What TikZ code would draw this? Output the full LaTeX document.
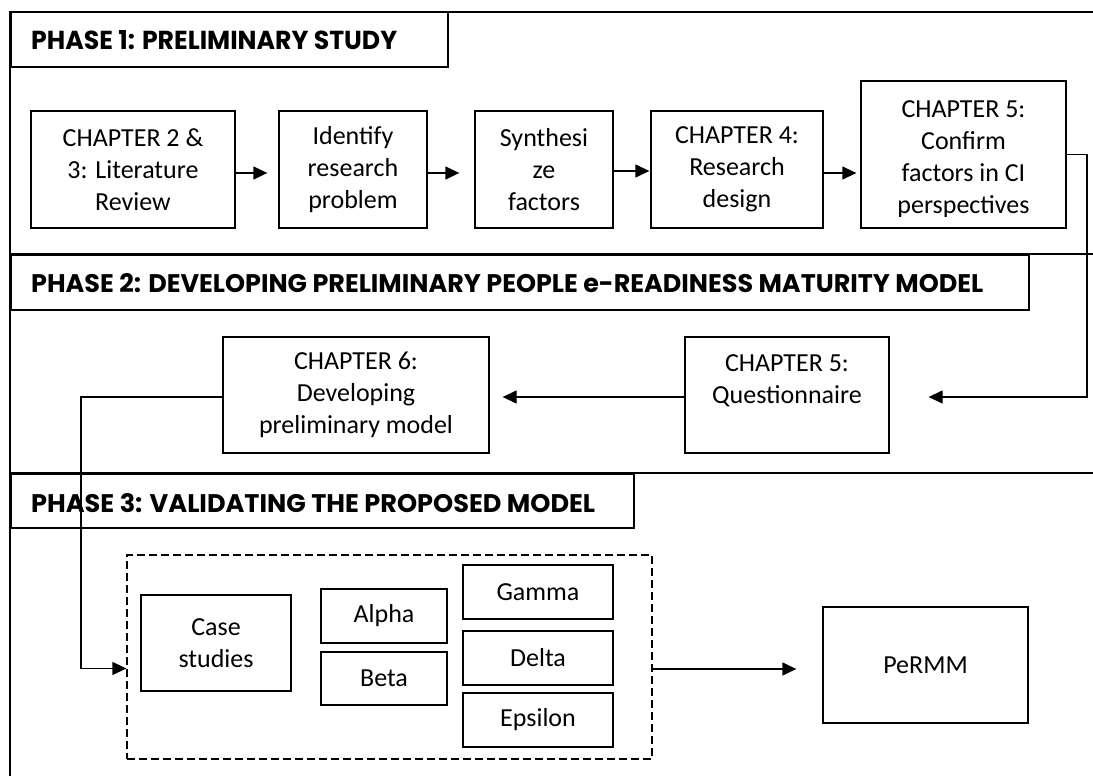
\documentclass[tikz,border=0pt]{standalone}
\usepackage{fontspec}
\usetikzlibrary{arrows.meta,calc}
\setmainfont{Carlito}
\newfontfamily\headfont{Poppins}[UprightFont=* Bold]
\newcommand{\hdtext}[2]{\resizebox{#1}{19pt}{\headfont #2}}
\begin{document}
\begin{tikzpicture}[x=1pt,y=-1pt,
  frameline/.style={line width=1.6pt},
  hdrbox/.style={draw,line width=1.6pt,minimum height=55pt,inner sep=0pt,anchor=north west},
  hdrtext/.style={anchor=base west,inner sep=0pt},
  stepbox/.style={draw,line width=1.3pt,inner sep=0pt,align=center,
    font=\fontsize{26}{32}\selectfont},
  groupbox/.style={draw,dashed,dash pattern=on 8pt off 4pt,line width=1.3pt,inner sep=0pt},
  arr/.style={line width=1.3pt,-{Triangle[length=14pt,width=13pt]}},
  plain/.style={line width=1.3pt}]
\useasboundingbox (0,0) rectangle (1093,776);

% outer frame and phase separators
\draw[frameline] (10,11) -- (10,780);
\draw[frameline] (447,12) -- (1096,12);
\draw[frameline] (10,254) -- (1096,254);
\draw[frameline] (10,473) -- (1096,473);

% phase headers
\node[hdrbox,minimum width=437pt] (h1) at (10,11) {};
\node[hdrtext] (t1) at (31,49) {\hdtext{366pt}{PHASE 1: PRELIMINARY STUDY}};
\node[hdrbox,minimum width=1018pt] (h2) at (10,254) {};
\node[hdrtext] (t2) at (31,292) {\hdtext{952pt}{PHASE 2: DEVELOPING PRELIMINARY PEOPLE e-READINESS MATURITY MODEL}};
\node[hdrbox,minimum width=623pt,minimum height=54pt] (h3) at (10,473) {};
\node[hdrtext] (t3) at (31,512) {\hdtext{564pt}{PHASE 3: VALIDATING THE PROPOSED MODEL}};

% phase 1 steps
\node[stepbox,minimum width=204pt,minimum height=117pt] (A) at (133,169.5) {CHAPTER 2 \&\\3: Literature\\Review};
\node[stepbox,minimum width=148pt,minimum height=117pt] (B) at (353,169.5) {Identify\\research\\problem};
\node[stepbox,minimum width=138pt,minimum height=117pt] (C) at (544,169.5) {Synthesi\\ze\\factors};
\node[stepbox,minimum width=172pt,minimum height=117pt] (D) at (737,169.5) {CHAPTER 4:\\Research\\design};
\node[stepbox,minimum width=205pt,minimum height=147pt] (E) at (963.5,154.5) {};
\begin{scope}
  \clip (861,81) rectangle (1066,216);
  \node[stepbox,draw=none] (Et) at (963.5,159) {CHAPTER 5:\\Confirm\\factors in CI\\perspectives};
\end{scope}

% phase 2 steps
\node[stepbox,minimum width=266pt,minimum height=116pt] (F) at (356,395) {CHAPTER 6:\\Developing\\preliminary model};
\node[stepbox,minimum width=204pt,minimum height=116pt] (G) at (787,395) {CHAPTER 5:\\Questionnaire\\\mbox{}};

% phase 3 steps
\node[groupbox,minimum width=525pt,minimum height=204pt] (grp) at (389.5,657) {};
\node[stepbox,minimum width=150pt,minimum height=96pt] (cs) at (216,643) {Case\\studies};
\node[stepbox,minimum width=126pt,minimum height=54pt] (al) at (384,616) {Alpha};
\node[stepbox,minimum width=126pt,minimum height=53pt] (be) at (384,678.5) {Beta};
\node[stepbox,minimum width=150pt,minimum height=54pt] (ga) at (538,592) {Gamma};
\node[stepbox,minimum width=150pt,minimum height=54pt] (de) at (538,658) {Delta};
\node[stepbox,minimum width=150pt,minimum height=54pt] (ep) at (538,720) {Epsilon};
\node[stepbox,minimum width=205pt,minimum height=116pt] (pe) at (925.5,665) {PeRMM};

% connectors
\coordinate (ab) at ([yshift=-3.5pt]A.east);
\draw[arr,shorten >=11pt] (ab) -- (ab -| B.west);
\coordinate (bc) at ([yshift=-3.5pt]B.east);
\draw[arr,shorten >=15pt] (bc) -- (bc -| C.west);
\coordinate (cd) at ([yshift=-1.5pt]C.east);
\draw[arr,shorten >=1pt] (cd) -- (cd -| D.west);
\coordinate (de1) at ([yshift=-3.5pt]D.east);
\draw[arr,shorten >=4pt] (de1) -- (de1 -| E.west);

\coordinate (rx) at (1087,0);
\coordinate (gin) at ([yshift=-2pt]G.east);
\draw[arr,shorten >=39pt] (E.east) -| (rx |- gin) -- (gin);

\coordinate (gout) at ([yshift=-2pt]G.west);
\draw[arr,shorten >=13pt] (gout) -- (gout -| F.east);

\coordinate (lx) at (81,0);
\coordinate (fout) at ([yshift=-2pt]F.west);
\coordinate (cin) at ([yshift=-11.5pt]grp.west);
\draw[arr] (fout) -| (lx |- cin) -- (cin);

\coordinate (gout2) at ([yshift=-12pt]grp.east);
\draw[arr,shorten >=26pt] (gout2) -- (gout2 -| pe.west);
\end{tikzpicture}
\end{document}
